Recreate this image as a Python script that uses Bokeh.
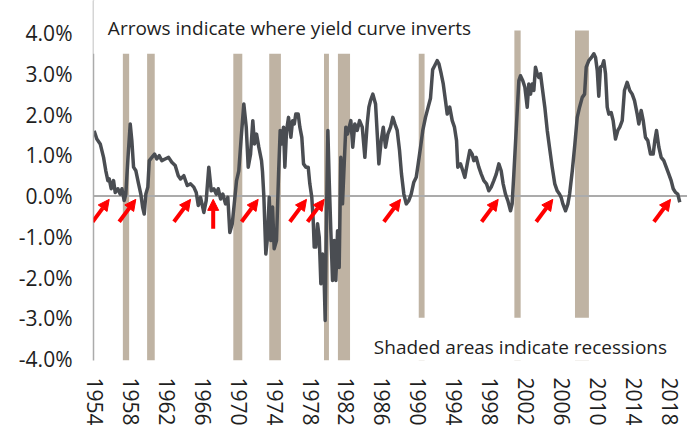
from bokeh.plotting import figure
from bokeh.models import (Range1d, FixedTicker, Span, BoxAnnotation, Label, Arrow,
                          NormalHead, PrintfTickFormatter, CustomJSTickFormatter)
from bokeh.embed import file_html
from bokeh.resources import INLINE

# ---- data (year, spread in %) ----
years = [1954.40, 1954.70, 1955.08, 1955.45, 1955.70, 1955.93, 1956.08, 1956.30, 1956.56, 1956.75,
         1957.04, 1957.30, 1957.50, 1957.75, 1957.93, 1958.15, 1958.42, 1958.60, 1958.79, 1959.05,
         1959.35, 1959.60, 1959.80, 1959.98, 1960.16, 1960.38, 1960.54, 1960.83, 1961.13, 1961.38,
         1961.65, 1961.94, 1962.30, 1962.69, 1963.05, 1963.43, 1963.77, 1964.02, 1964.39, 1964.77,
         1965.14, 1965.50, 1965.77, 1966.00, 1966.25, 1966.62, 1966.88, 1967.17, 1967.44, 1967.73,
         1968.00, 1968.22, 1968.48, 1968.73, 1969.03, 1969.29, 1969.51, 1969.78, 1970.04, 1970.26,
         1970.51, 1970.78, 1971.07, 1971.34, 1971.56, 1971.82, 1972.07, 1972.26, 1972.49, 1972.74,
         1973.04, 1973.15, 1973.30, 1973.52, 1973.71, 1973.90, 1974.08, 1974.27, 1974.45, 1974.71,
         1974.94, 1975.12, 1975.30, 1975.49, 1975.64, 1975.83, 1976.05, 1976.31, 1976.50, 1976.69,
         1976.86, 1977.13, 1977.31, 1977.53, 1977.72, 1977.98, 1978.24, 1978.42, 1978.64, 1978.80,
         1978.91, 1979.09, 1979.28, 1979.47, 1979.65, 1979.84, 1980.02, 1980.13, 1980.28, 1980.43,
         1980.58, 1980.76, 1980.95, 1981.14, 1981.32, 1981.51, 1981.69, 1981.87, 1982.06, 1982.25,
         1982.43, 1982.62, 1982.81, 1982.99, 1983.20, 1983.43, 1983.70, 1983.96, 1984.26, 1984.55,
         1984.81, 1985.00, 1985.18, 1985.44, 1985.74, 1985.93, 1986.11, 1986.37, 1986.60, 1986.85,
         1987.11, 1987.41, 1987.66, 1987.89, 1988.15, 1988.41, 1988.63, 1988.89, 1989.16, 1989.44,
         1989.71, 1990.00, 1990.27, 1990.49, 1990.75, 1991.00, 1991.30, 1991.60, 1991.86, 1992.10,
         1992.42, 1992.60, 1992.80, 1993.05, 1993.28, 1993.53, 1993.72, 1994.00, 1994.28, 1994.53,
         1994.76, 1994.90, 1995.20, 1995.46, 1995.68, 1995.95, 1996.24, 1996.50, 1996.68, 1996.95,
         1997.24, 1997.51, 1997.80, 1998.10, 1998.35, 1998.62, 1998.91, 1999.18, 1999.47, 1999.73,
         1999.95, 2000.21, 2000.47, 2000.77, 2000.95, 2001.14, 2001.44, 2001.70, 2001.88, 2002.14,
         2002.37, 2002.63, 2002.81, 2003.00, 2003.19, 2003.37, 2003.55, 2003.74, 2003.93, 2004.11,
         2004.30, 2004.59, 2004.86, 2005.11, 2005.41, 2005.70, 2005.97, 2006.22, 2006.41, 2006.60,
         2006.90, 2007.16, 2007.35, 2007.65, 2007.94, 2008.20, 2008.46, 2008.76, 2009.02, 2009.20,
         2009.49, 2009.79, 2010.05, 2010.24, 2010.43, 2010.60, 2010.79, 2011.00, 2011.16, 2011.35,
         2011.54, 2011.72, 2011.98, 2012.20, 2012.46, 2012.72, 2012.94, 2013.21, 2013.46, 2013.76,
         2014.05, 2014.32, 2014.58, 2014.88, 2015.06, 2015.32, 2015.55, 2015.80, 2016.06, 2016.36,
         2016.66, 2016.84, 2017.03, 2017.29, 2017.55, 2017.84, 2018.11, 2018.40, 2018.66, 2018.89,
         2019.14, 2019.40, 2019.62]

spread = [1.60, 1.40, 1.28, 0.95, 0.62, 0.38, 0.42, 0.18, 0.38, 0.09,
          0.18, 0.05, 0.18, -0.11, 0.05, 0.87, 1.77, 1.36, 0.71, 0.62,
          0.30, 0.05, -0.27, -0.44, 0.05, 0.22, 0.87, 0.95, 1.03, 0.91,
          0.99, 0.87, 0.91, 0.95, 0.83, 0.75, 0.50, 0.42, 0.50, 0.26,
          0.30, 0.22, 0.09, -0.23, -0.03, -0.40, -0.11, 0.71, 0.13, 0.18,
          0.05, 0.18, -0.07, 0.05, -0.19, -0.03, -0.89, -0.68, -0.11, 0.38,
          0.62, 1.44, 2.26, 1.69, 0.71, 1.03, 1.85, 1.28, 1.52, 1.20,
          0.87, 0.60, 0.00, -1.42, -1.01, -0.03, -1.09, -0.27, -1.29, -1.09,
          0.54, 1.61, 1.28, 1.69, 0.71, 1.61, 1.93, 1.44, 1.85, 1.77,
          2.01, 2.01, 1.69, 1.44, 0.79, 0.71, 0.71, 0.30, -0.03, -0.60,
          -1.25, -1.25, -0.68, -1.01, -2.15, -1.42, -2.07, -3.05, -0.44, 1.61,
          0.38, -0.85, -2.07, -1.09, -2.07, -0.85, -1.75, 0.95, -0.19, 0.79,
          1.69, 1.52, 1.69, 1.85, 1.20, 1.77, 1.61, 1.85, 1.69, 0.95,
          1.77, 2.18, 2.34, 2.50, 2.26, 1.52, 0.79, 1.36, 1.69, 1.20,
          1.52, 1.69, 1.93, 1.77, 1.61, 1.12, 0.54, 0.05, -0.19, -0.11,
          0.05, 0.34, 0.46, 0.79, 1.20, 1.61, 1.93, 2.18, 2.40, 3.10,
          3.24, 3.32, 3.24, 3.00, 2.75, 2.34, 2.01, 2.18, 1.85, 1.69,
          1.36, 0.71, 0.79, 0.62, 0.46, 0.79, 1.12, 1.03, 0.87, 0.95,
          0.71, 0.54, 0.38, 0.30, 0.13, 0.22, 0.38, 0.54, 0.79, 0.62,
          0.30, 0.05, -0.11, -0.36, -0.19, 0.54, 1.77, 2.83, 2.95, 2.83,
          2.67, 2.18, 2.75, 2.50, 2.75, 2.59, 3.16, 3.00, 2.91, 3.00,
          2.67, 2.18, 1.61, 1.20, 0.71, 0.30, 0.13, 0.05, -0.03, -0.19,
          -0.36, -0.19, 0.05, 0.62, 1.28, 1.93, 2.18, 2.42, 2.50, 3.16,
          3.32, 3.40, 3.49, 3.40, 3.08, 2.45, 3.16, 3.20, 3.32, 3.00,
          2.18, 2.01, 2.05, 1.85, 1.40, 1.61, 1.69, 1.85, 2.59, 2.79,
          2.59, 2.50, 2.34, 2.01, 1.77, 2.10, 1.85, 1.44, 1.36, 1.03,
          1.03, 1.36, 1.61, 1.20, 0.95, 0.87, 0.71, 0.54, 0.38, 0.18,
          0.09, 0.05, -0.15]

# recessions (start, end as decimal years)
rec_start = [1957.60, 1960.30, 1969.90, 1973.90, 1980.00, 1981.55, 1990.55, 2001.20, 2007.95]
rec_end = [1958.30, 1961.15, 1970.90, 1975.20, 1980.55, 1982.90, 1991.20, 2001.90, 2009.50]

# inversion arrows: tip year and arrow kind
arrow_years = [1956.08, 1959.04, 1965.14, 1967.66, 1972.67, 1978.05, 1980.02,
               1988.52, 1999.40, 2005.48, 2018.59]
arrow_kind = ["diag", "diag", "diag", "up", "diag", "diag", "diag",
              "diag", "diag", "diag", "diag"]

x_tick_years = list(range(1954, 2019, 4))
y_ticks = [-4, -3, -2, -1, 0, 1, 2, 3, 4]

title_text = "Arrows indicate where yield curve inverts"
note_text = "Shaded areas indicate recessions"

# ---- style ----
FONT = "Open Sans"
LINE_COLOR = "#4a4d52"
REC_COLOR = "#bfb3a3"
AXIS_GREY = "#ababab"
TEXT_COLOR = "#1e1e1e"
SHADE_TOP = 4.06

p = figure(width=687, height=438, output_backend="svg", toolbar_location=None,
           x_range=Range1d(1954.33, 2020.48), y_range=Range1d(-4.03, 4.795))
p.min_border_left = 93
p.min_border_right = 0
p.min_border_top = 0
p.min_border_bottom = 78
p.outline_line_color = None
p.background_fill_color = "white"
p.border_fill_color = "white"
p.xgrid.visible = False
p.ygrid.visible = False

# recession shading
for s, e in zip(rec_start, rec_end):
    p.add_layout(BoxAnnotation(left=s, right=e, top=SHADE_TOP, fill_color=REC_COLOR,
                               fill_alpha=1.0, line_color=None, level="underlay"))

# zero line
p.add_layout(Span(location=0, dimension="width", line_color=AXIS_GREY, line_width=2,
                  level="underlay"))

# spread line
p.line(years, spread, line_color=LINE_COLOR, line_width=3.5, line_join="round")

# white text boxes (as in the original chart)
p.add_layout(BoxAnnotation(left=1953.6, right=1998.5, bottom=3.49, fill_color="white",
                           fill_alpha=1.0, line_color=None))
p.add_layout(BoxAnnotation(left=1984.1, top=-2.98, fill_color="white",
                           fill_alpha=1.0, line_color=None))

p.add_layout(Label(x=1955.93, y=4.12, text=title_text, text_font=FONT,
                   text_font_size="19px", text_color=TEXT_COLOR, text_baseline="alphabetic"))
p.add_layout(Label(x=1985.55, y=-3.71, text=note_text, text_font=FONT,
                   text_font_size="19px", text_color=TEXT_COLOR, text_baseline="alphabetic"))

# arrows
TIP_Y = -0.08
for yr, kind in zip(arrow_years, arrow_kind):
    if kind == "up":
        xs, ys = yr, TIP_Y - 0.72
    else:
        xs, ys = yr - 1.85, TIP_Y - 0.55
    p.add_layout(Arrow(end=NormalHead(size=11, fill_color="#ff0000", line_color="#ff0000"),
                       x_start=xs, y_start=ys, x_end=yr, y_end=TIP_Y,
                       line_color="#ff0000", line_width=4))

# axes
p.yaxis.ticker = FixedTicker(ticks=y_ticks)
p.yaxis.formatter = PrintfTickFormatter(format="%.1f%%")
p.yaxis.axis_line_color = AXIS_GREY
p.yaxis.axis_line_width = 1.5
p.yaxis.major_tick_line_color = None
p.yaxis.minor_tick_line_color = None
p.yaxis.major_tick_out = 0
p.yaxis.major_label_standoff = 21
p.yaxis.major_label_text_font = FONT
p.yaxis.major_label_text_font_size = "21px"
p.yaxis.major_label_text_color = TEXT_COLOR

p.xaxis.ticker = FixedTicker(ticks=[y + 0.5 for y in x_tick_years])
p.xaxis.formatter = CustomJSTickFormatter(code="return String(Math.floor(tick));")
p.xaxis.axis_line_color = None
p.xaxis.major_tick_line_color = None
p.xaxis.minor_tick_line_color = None
p.xaxis.major_tick_out = 0
p.xaxis.major_label_standoff = 17
p.xaxis.major_label_orientation = "vertical"
p.xaxis.major_label_text_font = FONT
p.xaxis.major_label_text_font_size = "21px"
p.xaxis.major_label_text_color = TEXT_COLOR

open("out.html", "w").write(file_html(p, INLINE))
